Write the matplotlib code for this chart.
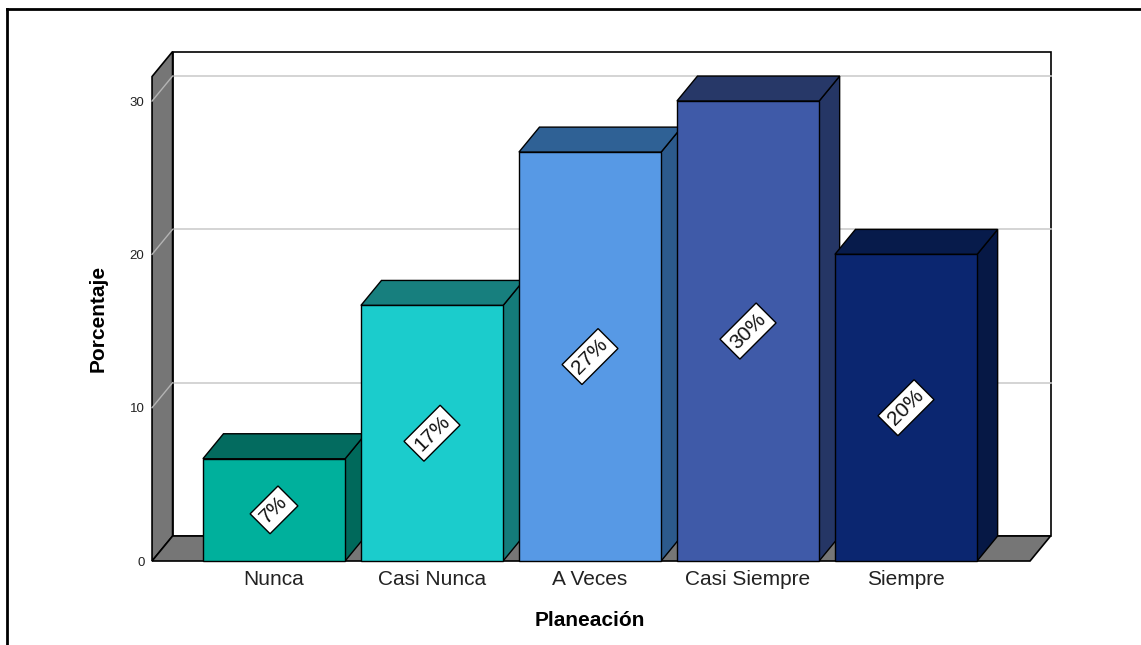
import numpy as np
import matplotlib
matplotlib.use('Agg')
import matplotlib.pyplot as plt
from matplotlib.patches import Polygon, Rectangle
from matplotlib.lines import Line2D

plt.rcParams['font.family'] = ['Liberation Sans', 'DejaVu Sans']

# Datos de la variable Planeación (frecuencias en porcentaje)
categorias = ['Nunca', 'Casi Nunca', 'A Veces', 'Casi Siempre', 'Siempre']
porcentajes = [6.67, 16.67, 26.67, 30.0, 20.0]
etiquetas = ['7%', '17%', '27%', '30%', '20%']
marcas_y = [0, 10, 20, 30]

# Colores de cada barra: cara frontal, tapa superior y lado derecho
color_frente = ['#00B09C', '#1BCCCC', '#5799E5', '#3F5AA8', '#0B2670']
color_tapa = ['#036B5F', '#177F7E', '#2F6195', '#273868', '#071B4B']
color_lado = ['#00695B', '#147B7A', '#2C5A8C', '#253665', '#061845']

# Profundidad del efecto 3D (en unidades de los ejes)
dx, dy = 0.13, 1.63
ancho = 0.9
x0, x1 = -0.772, 4.785
y_max = 31.6
gris_pared = '#767676'

fig = plt.figure(figsize=(11.41, 6.45), dpi=100)
ax = fig.add_axes([150 / 1141, 82 / 645, 902 / 1141, 513 / 645])
ax.set_xlim(-0.785, 4.924)
ax.set_ylim(-0.13, 33.33)
for s in ax.spines.values():
    s.set_visible(False)

# Pared del fondo
ax.add_patch(Rectangle((x0 + dx, dy), x1 - x0, y_max, facecolor='white',
                       edgecolor='black', lw=1.2, zorder=1))
# Pared izquierda y piso
ax.add_patch(Polygon([(x0, 0), (x0 + dx, dy), (x0 + dx, y_max + dy), (x0, y_max)],
                     closed=True, facecolor=gris_pared, edgecolor='black', lw=1.2, zorder=2))
ax.add_patch(Polygon([(x0, 0), (x1, 0), (x1 + dx, dy), (x0 + dx, dy)],
                     closed=True, facecolor=gris_pared, edgecolor='black', lw=1.2, zorder=2))

# Líneas de cuadrícula en el fondo y en la pared izquierda
for v in marcas_y[1:]:
    ax.plot([x0 + dx, x1 + dx], [v + dy, v + dy], color='#CDCDCD', lw=1.2, zorder=1.5)
    ax.plot([x0, x0 + dx], [v, v + dy], color='#B4B4B4', lw=1.0, zorder=2.5)

# Barras 3D
for i, v in enumerate(porcentajes):
    izq, der = i - ancho / 2, i + ancho / 2
    z = 3 + i
    ax.add_patch(Polygon([(der, 0), (der + dx, dy), (der + dx, v + dy), (der, v)],
                         closed=True, facecolor=color_lado[i], edgecolor='black', lw=1.0, zorder=z))
    ax.add_patch(Polygon([(izq, v), (der, v), (der + dx, v + dy), (izq + dx, v + dy)],
                         closed=True, facecolor=color_tapa[i], edgecolor='black', lw=1.0, zorder=z))
    ax.add_patch(Rectangle((izq, 0), ancho, v, facecolor=color_frente[i],
                           edgecolor='black', lw=1.0, zorder=z))
    ax.text(i, v / 2, etiquetas[i], rotation=45, ha='center', va='center',
            fontsize=15, rotation_mode='anchor', zorder=10, color='#111111',
            bbox=dict(boxstyle='square,pad=0.22', facecolor='white', edgecolor='black', lw=1.0))

# Ejes
ax.set_xticks(range(len(categorias)))
ax.set_xticklabels(categorias, fontsize=15, color='#222222')
ax.set_yticks(marcas_y)
ax.set_yticklabels([str(m) for m in marcas_y], fontsize=9.5, color='#222222')
ax.tick_params(axis='x', length=0, pad=5)
ax.tick_params(axis='y', length=0, pad=4)

fig.text(590 / 1141, 1 - 621 / 645, 'Planeación', fontsize=15, fontweight='bold',
         ha='center', va='center')
fig.text(98 / 1141, 1 - 318 / 645, 'Porcentaje', fontsize=15, fontweight='bold',
         rotation=90, ha='center', va='center')

# Marco exterior
fig.add_artist(Line2D([7 / 1141, 7 / 1141], [0, 1 - 9 / 645], color='black', lw=2,
                      transform=fig.transFigure))
fig.add_artist(Line2D([7 / 1141, 1], [1 - 9 / 645, 1 - 9 / 645], color='black', lw=2,
                      transform=fig.transFigure))

fig.savefig('out.png', dpi=100)
